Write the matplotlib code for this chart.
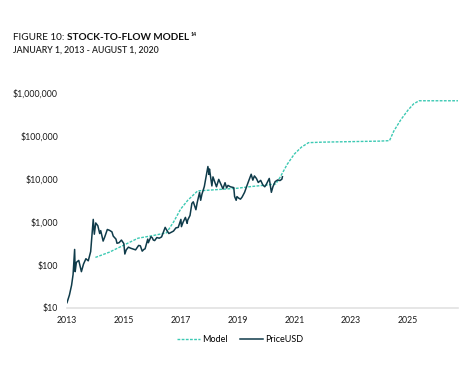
import matplotlib
matplotlib.use("Agg")
import matplotlib.pyplot as plt
import matplotlib.ticker as mticker
import numpy as np

plt.rcParams['font.family'] = ['Lato', 'DejaVu Sans']

# Price data (date, USD)
price_dates = [
    "2013-01-01","2013-02-01","2013-03-01","2013-03-20","2013-04-09","2013-04-16","2013-05-01",
    "2013-06-01","2013-07-05","2013-08-01","2013-09-01","2013-10-01","2013-11-01","2013-11-18",
    "2013-12-04","2013-12-18","2014-01-05","2014-02-01","2014-02-25","2014-03-10","2014-04-10",
    "2014-05-01","2014-06-03","2014-07-01","2014-08-01","2014-08-18","2014-09-22","2014-10-05",
    "2014-11-01","2014-12-01","2015-01-01","2015-01-14","2015-02-01","2015-03-01","2015-04-01",
    "2015-05-01","2015-06-01","2015-07-10","2015-08-01","2015-08-25","2015-09-15","2015-10-01",
    "2015-11-04","2015-11-12","2015-12-15","2016-01-01","2016-01-15","2016-02-01","2016-03-01",
    "2016-04-01","2016-05-01","2016-06-16","2016-07-01","2016-08-02","2016-09-01","2016-10-01",
    "2016-11-01","2016-12-01","2017-01-04","2017-01-11","2017-02-01","2017-03-03","2017-03-25",
    "2017-04-01","2017-05-01","2017-05-25","2017-06-12","2017-07-16","2017-08-01","2017-09-01",
    "2017-09-15","2017-10-01","2017-11-01","2017-12-17","2017-12-30","2018-01-06","2018-02-06",
    "2018-02-20","2018-04-06","2018-05-05","2018-06-28","2018-07-25","2018-08-14","2018-09-01",
    "2018-10-01","2018-11-14","2018-11-25","2018-12-15","2018-12-25","2019-01-15","2019-02-08",
    "2019-03-01","2019-04-02","2019-05-14","2019-06-26","2019-07-17","2019-08-06","2019-09-01",
    "2019-09-25","2019-10-26","2019-11-22","2019-12-17","2020-01-01","2020-02-13","2020-03-12",
    "2020-04-01","2020-04-30","2020-06-01","2020-07-01","2020-07-25","2020-08-01",
]
price_values = [
    13.3, 20, 34, 60, 230, 70, 115,
    128, 70, 105, 140, 125, 205, 500,
    1150, 520, 950, 820, 540, 630, 360,
    450, 670, 640, 590, 470, 400, 320,
    330, 380, 315, 180, 225, 260, 245,
    235, 225, 285, 280, 210, 230, 238,
    400, 330, 455, 430, 380, 370, 435,
    420, 450, 750, 670, 540, 575, 615,
    730, 750, 1150, 780, 990, 1280, 930,
    1100, 1420, 2700, 2950, 1930, 2800, 4900,
    3200, 4400, 6700, 19500, 12800, 17100, 6900,
    11200, 6600, 9800, 5900, 8200, 6200, 7100,
    6600, 6300, 3900, 3200, 3900, 3600, 3400,
    3800, 4900, 8000, 12900, 9400, 11800, 10300,
    8300, 9300, 7300, 6600, 7200, 10300, 4900,
    6600, 8700, 9500, 9200, 9900, 11300,
]

# Stock-to-flow model (decimal year, USD)
model_years = [2014.0, 2014.5, 2015.0, 2015.5, 2016.0, 2016.5, 2016.75, 2017.0, 2017.25,
               2017.5, 2017.6, 2018.0, 2018.5, 2019.0, 2019.5, 2020.0, 2020.35,
               2020.5, 2020.75, 2021.0, 2021.25, 2021.5, 2022.0, 2023.0, 2024.0, 2024.35,
               2024.5, 2024.75, 2025.0, 2025.2, 2025.39, 2026.76]
model_values = [150, 200, 290, 420, 480, 560, 1000, 2000, 3200,
                4600, 5300, 5500, 5800, 6100, 6700, 7200, 7700,
                11000, 22000, 38000, 55000, 70000, 72000, 74000, 76000, 78000,
                130000, 240000, 400000, 560000, 660000, 660000]

x_ticks = [2013, 2015, 2017, 2019, 2021, 2023, 2025]
y_ticks = [10, 100, 1000, 10000, 100000, 1000000]
y_tick_labels = ["$10", "$100", "$1,000", "$10,000", "$100,000", "$1,000,000"]


def to_decimal_year(s):
    y, m, d = (int(p) for p in s.split("-"))
    cum = [0, 31, 59, 90, 120, 151, 181, 212, 243, 273, 304, 334]
    return y + (cum[m - 1] + d - 1) / 365.0


price_x = [to_decimal_year(s) for s in price_dates]

fig = plt.figure(figsize=(4.73, 3.68), dpi=100)
ax = fig.add_axes([67 / 473, 1 - 308 / 368, (458 - 67) / 473, (308 - 79) / 368])

model_color = "#3cc9b3"
price_color = "#0f3b4a"

ax.plot(model_years, model_values, color=model_color, lw=1.0, ls=(0, (2, 1)), label="Model")
ax.plot(price_x, price_values, color=price_color, lw=1.1, label="PriceUSD")

ax.set_yscale("log")
ax.set_ylim(10, 10 ** (1 + (308 - 79) / 43))
ax.set_xlim(2013.0, 2026.76)
ax.set_xticks(x_ticks)
ax.set_xticklabels([str(t) for t in x_ticks])
ax.set_yticks(y_ticks)
ax.set_yticklabels(y_tick_labels)
ax.yaxis.set_minor_locator(mticker.NullLocator())
ax.tick_params(axis="both", length=0, labelsize=6.3, colors="#1a1a1a")
ax.tick_params(axis="x", pad=6)
ax.tick_params(axis="y", pad=6.5)
for s in ["top", "right", "left"]:
    ax.spines[s].set_visible(False)
ax.spines["bottom"].set_color("#e2e2e2")
ax.spines["bottom"].set_linewidth(1.2)

leg = fig.legend(loc="center", bbox_to_anchor=(240 / 473, 1 - 340 / 368), ncol=2, frameon=False,
                 fontsize=6.5, handlelength=2.55, columnspacing=1.3, handletextpad=0.3)

# Title with mixed weights
fig.canvas.draw()
r = fig.canvas.get_renderer()
t1 = fig.text(13 / 473, 1 - 40.5 / 368, "FIGURE 10: ", fontsize=7.2, color="#111111", va="baseline")
bb = t1.get_window_extent(r)
x2 = bb.x1 / fig.bbox.width
t2 = fig.text(x2, 1 - 40.5 / 368, "STOCK-TO-FLOW MODEL", fontsize=7.2, fontweight="bold",
              color="#111111", va="baseline")
bb2 = t2.get_window_extent(r)
fig.text(bb2.x1 / fig.bbox.width + 0.003, 1 - 36 / 368, "14", fontsize=3.8, fontweight="bold",
         color="#111111", va="baseline")
fig.text(13 / 473, 1 - 52.5 / 368, "JANUARY 1, 2013 - AUGUST 1, 2020", fontsize=6.3,
         fontweight="semibold", color="#222222", va="baseline")

fig.savefig("out.png", dpi=100)
